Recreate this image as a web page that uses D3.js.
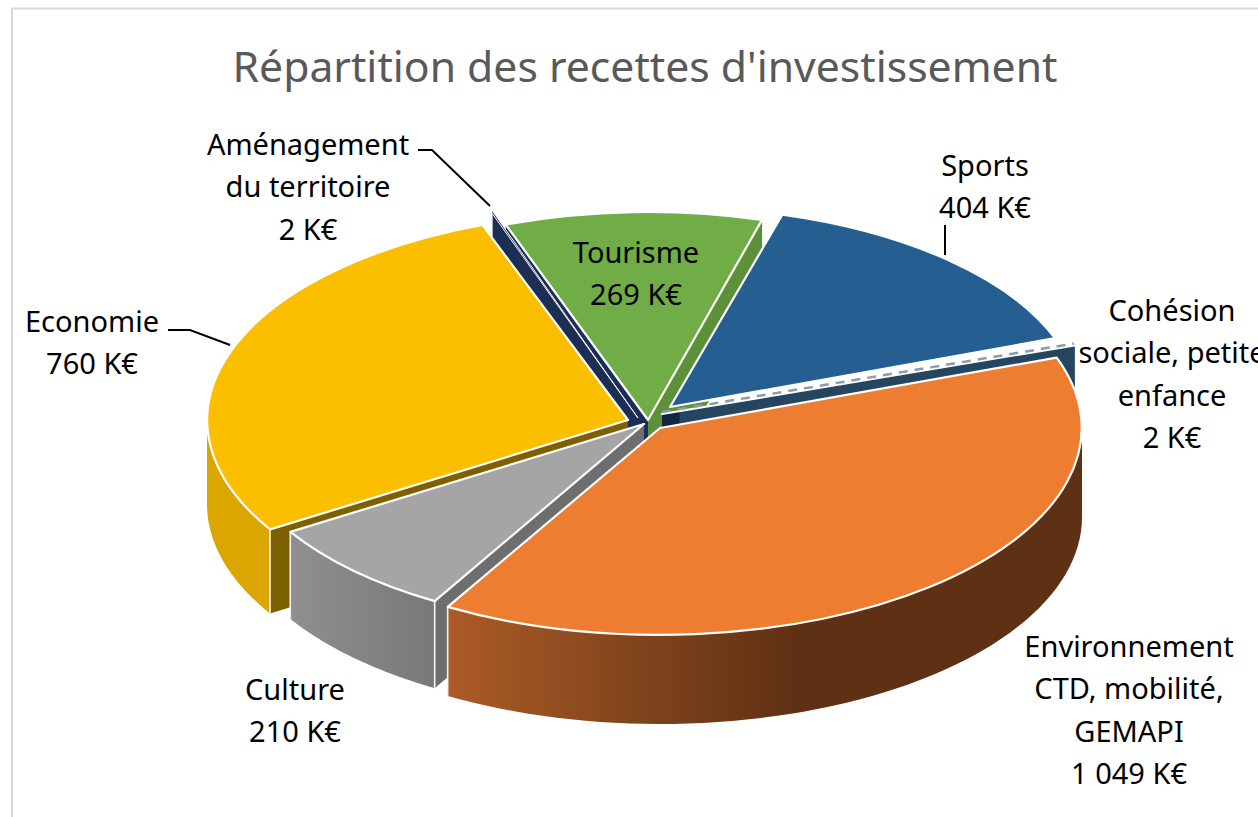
<!DOCTYPE html>
<html lang="fr">
<head>
<meta charset="utf-8">
<script src="https://cdn.jsdelivr.net/npm/d3@7"></script>
<style>
html,body{margin:0;padding:0;background:#fff;overflow:hidden}
svg{display:block}
text{font-family:"Noto Sans",sans-serif}
</style>
</head>
<body>
<div id="chart"></div>
<script>
// ---- data (order of the pie, clockwise) ----
const categories = ["Tourisme","Sports","Cohésion sociale, petite enfance","Environnement CTD, mobilité, GEMAPI","Culture","Economie","Aménagement du territoire"];
const values = [269,404,2,1049,210,760,2];
const labelLines = [["Tourisme"],["Sports"],["Cohésion","sociale, petite","enfance"],["Environnement","CTD, mobilité,","GEMAPI"],["Culture"],["Economie"],["Aménagement","du territoire"]];
const chartTitle = "Répartition des recettes d'investissement";

// ---- layout and style, kept apart from the data ----
const W = 1258, H = 817, firstAngleDeg = -20;
const depths = [88,88,88,89,87,84,88];
const centreX = [648,670,662,660,644,628,638];
const centreY = [420,407,414,428,424,420,418];
const radiusX = [416,410,439,422,416,421,425];
const radiusY = [208,200,202,207,205,208,220];
const edgeWidth = [2.2,2.2,2.2,2.2,2.2,2.2,1];
const topColors = ["#70ad47","#255e91","#264660","#ed7d31","#a5a5a5","#fbbf00","#1c2e54"];
const startWall = ["#1c2e54",null,null,null,"#6e6e6e","#7f6000",null];
const endWall = ["#5c9039",null,"url(#wallCohesion)",null,null,null,"#1c2e54"];
const paintOrder = [0,6,1,2,5,4,3];
const labelX = [636,985,1172,1129,295,92,308];
const labelY = [263,176,321,657,700,332,155];

const fmt = d3.formatLocale({decimal:",",thousands:" ",grouping:[3],currency:["","€"]}).format(",d");
const svg = d3.select("#chart").append("svg").attr("width",W).attr("height",H).attr("viewBox",[0,0,W,H]);

// gradients of the side walls
const defs = svg.append("defs");
function gradient(id,x1,x2,stops){
  const g = defs.append("linearGradient").attr("id",id).attr("gradientUnits","userSpaceOnUse")
    .attr("x1",x1).attr("x2",x2).attr("y1",0).attr("y2",0);
  stops.forEach(([o,c])=>g.append("stop").attr("offset",o).attr("stop-color",c));
}
gradient("sideOrange",445,800,[[0,"#ad5b26"],[.5,"#83461d"],[1,"#5e3014"]]);
gradient("sideGrey",288,435,[[0,"#909090"],[1,"#787878"]]);
gradient("sideYellow",207,272,[[0,"#dba600"],[1,"#dba600"]]);
gradient("wallCohesion",662,1075,[[0,"#0f2740"],[.04,"#0f2740"],[.045,"#264660"],[1,"#264660"]]);
const sideFill = [null,null,null,"url(#sideOrange)","url(#sideGrey)","url(#sideYellow)",null];

// frame
svg.append("path").attr("d",d3.line()([[12,H],[12,8.5],[W,8.5]])).attr("fill","none").attr("stroke","#d9d9d9").attr("stroke-width",2);

const rad = Math.PI/180;
const start = firstAngleDeg*rad;
const arcs = d3.pie().sort(null).startAngle(start).endAngle(start+2*Math.PI)(values);
const unitArc = d3.arc().innerRadius(0).outerRadius(1);

const px = (i,t)=>centreX[i]+radiusX[i]*Math.sin(t);
const py = (i,t)=>centreY[i]-radiusY[i]*Math.cos(t);

const pie = svg.append("g");
paintOrder.forEach(i=>{
  const a = arcs[i], g = pie.append("g"), depth = depths[i];
  const wall = (t,color)=>{
    if(!color) return;
    const edge = [[centreX[i],centreY[i]],[px(i,t),py(i,t)],[px(i,t),py(i,t)+depth],[centreX[i],centreY[i]+depth]];
    g.append("path").attr("d",d3.line()(edge)+"Z").attr("fill",color);
  };
  wall(a.startAngle,startWall[i]);
  wall(a.endAngle,endWall[i]);

  // round side, only the part that faces the viewer
  const from = Math.max(a.startAngle,90*rad), to = Math.min(a.endAngle,270*rad);
  if(sideFill[i] && to>from){
    const ts = d3.range(0,61).map(k=>from+(to-from)*k/60);
    g.append("path")
      .attr("d",d3.area().x(t=>px(i,t)).y0(t=>py(i,t)).y1(t=>py(i,t)+depth)(ts))
      .attr("fill",sideFill[i]);
    [from,to].forEach(t=>{
      if(t===90*rad||t===270*rad) return;
      g.append("path").attr("d",d3.line()([[px(i,t),py(i,t)],[px(i,t),py(i,t)+depth]]))
       .attr("stroke","#f2f2f2").attr("stroke-width",1.6).attr("fill","none");
    });
  }
  // top face
  g.append("path")
    .attr("d",unitArc({startAngle:a.startAngle,endAngle:a.endAngle}))
    .attr("transform",`translate(${centreX[i]},${centreY[i]}) scale(${radiusX[i]},${radiusY[i]})`)
    .attr("fill",topColors[i])
    .attr("stroke","#fff").attr("stroke-width",edgeWidth[i])
    .attr("stroke-linejoin","round")
    .attr("vector-effect","non-scaling-stroke");
  // thin cohesion slice: its top reads as a dashed sliver
  if(i===2){
    g.append("path").attr("d",d3.line()([[centreX[i],centreY[i]-2],[px(i,a.startAngle),py(i,a.startAngle)-1]]))
      .attr("stroke","#8d9bab").attr("stroke-width",2.5).attr("stroke-dasharray","9 7").attr("fill","none");
  }
});

// leader lines
const leaders = [
  [[418,150],[432,150],[490,206]],
  [[945,255],[945,225]],
  [[168,330],[190,330],[230,345]]
];
svg.append("g").selectAll("path").data(leaders).join("path")
  .attr("d",d=>d3.line()(d)).attr("fill","none").attr("stroke","#000").attr("stroke-width",2);

// title
svg.append("text").attr("x",645).attr("y",82).attr("text-anchor","middle")
  .attr("font-size",42.7).attr("fill","#595959").text(chartTitle);

// data labels
const labels = svg.append("g").attr("font-size",29).attr("fill","#000").attr("text-anchor","middle");
categories.forEach((c,i)=>{
  const lines = [...labelLines[i],`${fmt(values[i])} K€`];
  const t = labels.append("text").attr("data-category",c);
  lines.forEach((l,k)=>t.append("tspan").attr("x",labelX[i]).attr("y",labelY[i]+k*42.3).text(l));
});
</script>
</body>
</html>
